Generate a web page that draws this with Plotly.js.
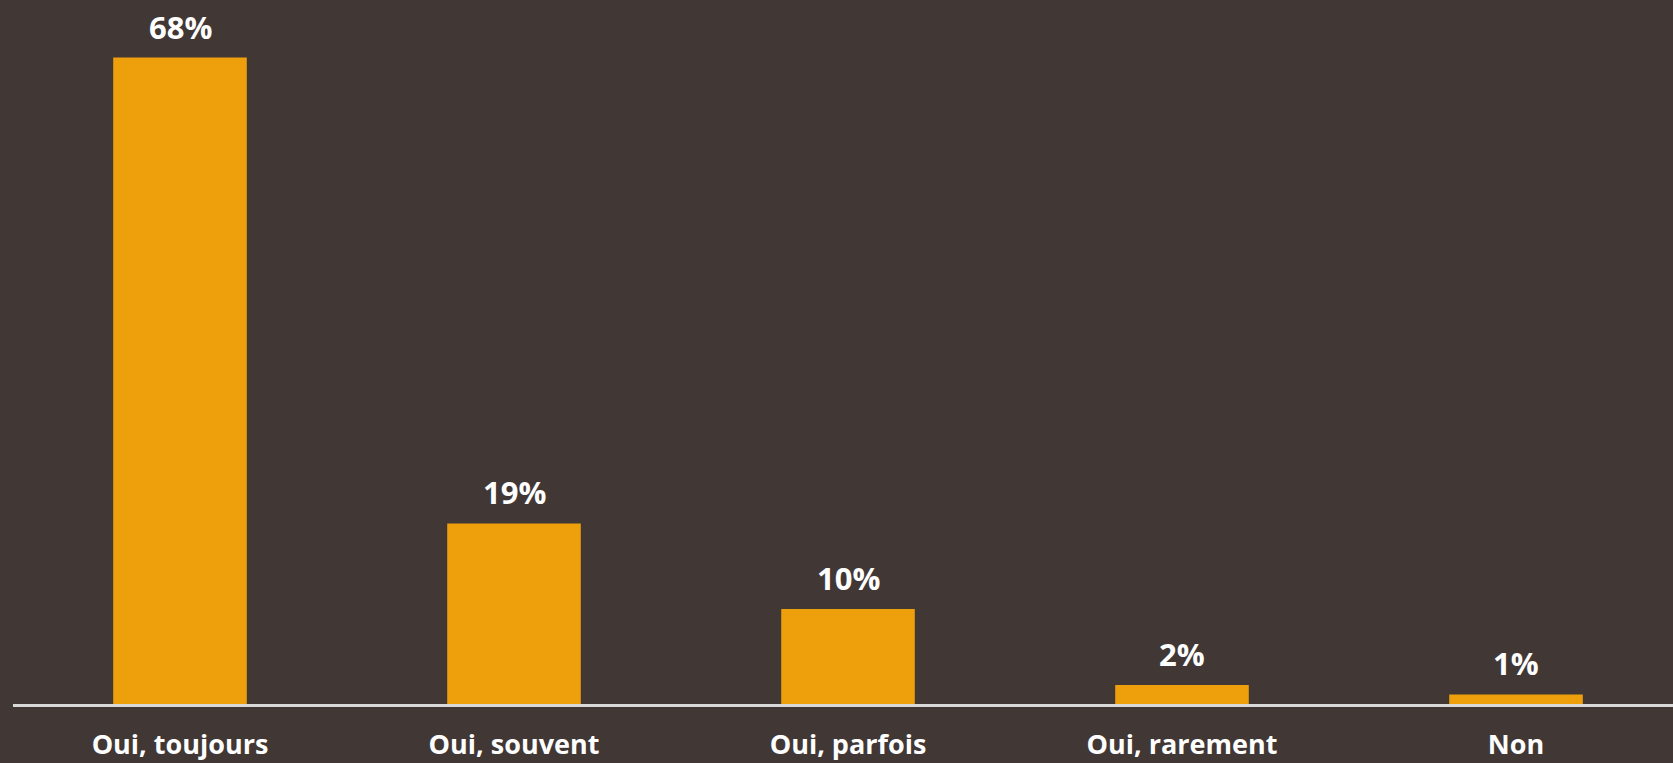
<!DOCTYPE html>
<html>
<head>
<meta charset="utf-8">
<script src="https://cdn.plot.ly/plotly-3.0.1.min.js"></script>
<style>html,body{margin:0;padding:0;background:#413735;}#chart{width:1673px;height:763px;}</style>
</head>
<body>
<div id="chart"></div>
<script>
const categories = ["Oui, toujours", "Oui, souvent", "Oui, parfois", "Oui, rarement", "Non"];
const values = [68, 19, 10, 2, 1];
const valueLabels = ["68%", "19%", "10%", "2%", "1%"];

const FONT = "'Open Sans', 'DejaVu Sans', sans-serif";
const trace = {
  type: 'bar',
  x: categories,
  y: values,
  marker: {color: '#EDA00C'},
  width: 0.4,
  hoverinfo: 'skip'
};
const annotations = categories.map((c, i) => ({
  x: c, y: values[i], xref: 'x', yref: 'y',
  text: valueLabels[i], showarrow: false,
  yanchor: 'bottom', yshift: 8,
  font: {family: FONT, size: 31, color: '#FFFFFF', weight: 'bold'}
}));
const layout = {
  width: 1673, height: 763,
  paper_bgcolor: '#413735', plot_bgcolor: '#413735',
  margin: {l: 13, r: 0, t: 0, b: 59},
  showlegend: false,
  bargap: 0.6,
  xaxis: {
    type: 'category',
    range: [-0.5, 4.47],
    showgrid: false, zeroline: false,
    showline: true, linecolor: '#D9D9D9', linewidth: 3,
    ticks: 'outside', ticklen: 15, tickcolor: 'rgba(0,0,0,0)',
    tickfont: {family: FONT, size: 27, color: '#FFFFFF', weight: 'bold'}
  },
  yaxis: {
    range: [0, 74.06],
    showgrid: false, zeroline: false, showline: false,
    showticklabels: false, ticks: ''
  },
  annotations: annotations
};
Plotly.newPlot('chart', [trace], layout, {displayModeBar: false, staticPlot: true});
</script>
</body>
</html>
